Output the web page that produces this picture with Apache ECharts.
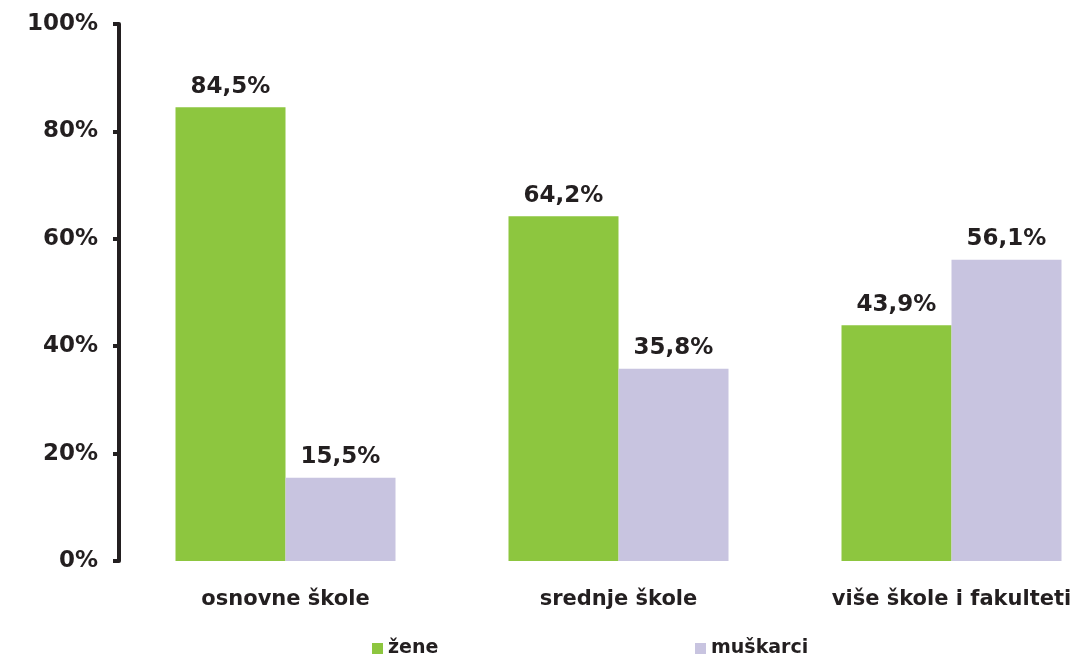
<!DOCTYPE html>
<html><head><meta charset="utf-8">
<script src="https://cdn.jsdelivr.net/npm/echarts@6/dist/echarts.min.js"></script>
<style>html,body{margin:0;padding:0;background:#fff}#c{width:1079px;height:654px}</style>
</head><body><div id="c"></div>
<script>
const categories = ['osnovne škole', 'srednje škole', 'više škole i fakulteti'];
const zene = [84.5, 64.2, 43.9];
const muskarci = [15.5, 35.8, 56.1];
const yTicks = [0, 20, 40, 60, 80, 100];

const FONT = '"DejaVu Sans", Verdana, sans-serif';
const TXT = '#231F20';
const chart = echarts.init(document.getElementById('c'));
const lbl = {
  show: true, position: 'top', distance: 9,
  formatter: p => p.value.toFixed(1).replace('.', ',') + '%',
  fontFamily: FONT, fontWeight: 'bold', fontSize: 23, color: TXT
};
chart.setOption({
  animation: false,
  grid: { left: 119, top: 24, width: 999, height: 537, outerBoundsMode: 'none', containLabel: false },
  legend: [
    { data: ['žene'], left: 367, top: 634, itemWidth: 11, itemHeight: 11, icon: 'rect', itemGap: 6,
      textStyle: { fontFamily: FONT, fontWeight: 'bold', fontSize: 19, color: TXT } },
    { data: ['muškarci'], left: 690, top: 634, itemWidth: 11, itemHeight: 11, icon: 'rect',
      textStyle: { fontFamily: FONT, fontWeight: 'bold', fontSize: 19, color: TXT } }
  ],
  xAxis: {
    type: 'category', data: categories,
    axisLine: { show: false }, axisTick: { show: false },
    axisLabel: { margin: 28, fontFamily: FONT, fontWeight: 'bold', fontSize: 21, color: TXT }
  },
  yAxis: {
    type: 'value', min: yTicks[0], max: yTicks[yTicks.length - 1], interval: 20,
    axisLine: { show: true, lineStyle: { color: TXT, width: 4, cap: 'round' } },
    axisTick: { show: true, length: 6, lineStyle: { color: TXT, width: 4 } },
    splitLine: { show: false },
    axisLabel: { margin: 21, formatter: v => v + '%', fontFamily: FONT, fontWeight: 'bold', fontSize: 23, color: TXT }
  },
  series: [
    { name: 'žene', type: 'bar', data: zene, barWidth: 110, barGap: '0%',
      itemStyle: { color: '#8DC63F' }, label: lbl },
    { name: 'muškarci', type: 'bar', data: muskarci, barWidth: 110,
      itemStyle: { color: '#C8C4E0' }, label: lbl }
  ]
});
</script></body></html>
